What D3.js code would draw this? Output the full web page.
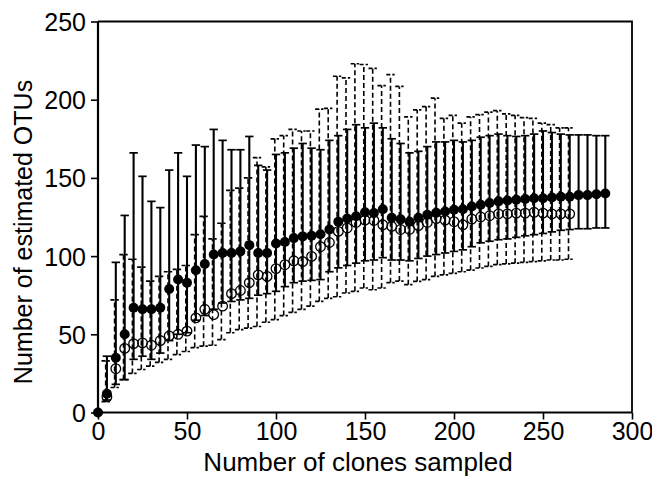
<!DOCTYPE html>
<html>
<head>
<meta charset="utf-8">
<script src="https://cdn.jsdelivr.net/npm/d3@7"></script>
<style>
    body { margin: 0; background: #fff; }
    text { font-family: 'Liberation Sans', Arial, sans-serif; fill: #000; }
</style>
</head>
<body>
<svg id="chart" width="652" height="480"></svg>
<script>
// clones sampled (x)
const solidClones = [0, 5, 10, 15, 20, 25, 30, 35, 40, 45, 50, 55, 60, 65, 70, 75, 80, 85, 90, 95,
    100, 105, 110, 115, 120, 125, 130, 135, 140, 145, 150, 155, 160, 165, 170, 175, 180, 185, 190, 195,
    200, 205, 210, 215, 220, 225, 230, 235, 240, 245, 250, 255, 260, 265, 270, 275, 280, 285]
const openClones = [5, 10, 15, 20, 25, 30, 35, 40, 45, 50, 55, 60, 65, 70, 75, 80, 85, 90, 95,
    100, 105, 110, 115, 120, 125, 130, 135, 140, 145, 150, 155, 160, 165, 170, 175, 180, 185, 190, 195,
    200, 205, 210, 215, 220, 225, 230, 235, 240, 245, 250, 255, 260, 265]

// filled circles, solid error bars
const solidMean = [0, 12, 35, 50, 67, 66, 66, 67, 79, 85, 83, 91, 95, 101, 102, 102, 103, 107, 102, 102,
    108, 109, 111.5, 112.6, 113, 114, 117, 122, 124, 125.5, 128, 127.5, 130, 124.5, 123.5, 122, 124.5, 126.4, 127.7, 128.5,
    129.6, 130, 131.7, 132.8, 134, 135, 135.5, 136, 136.5, 137, 137, 137.5, 138, 138, 139, 139, 139.5, 140]
const solidLow = [0, 8, 18, 21, 34, 36, 34, 38, 46, 50, 51, 59, 62, 66, 70, 71, 72, 73, 75, 76,
    77.5, 80.5, 83, 84, 84.5, 85, 90, 92.5, 94, 95.5, 97, 97.5, 99, 97.5, 97.5, 97, 98.5, 100, 101, 102,
    103, 104, 106, 108.5, 109.5, 110.5, 111, 112, 113, 113.7, 114.5, 115.5, 116.5, 117, 117.5, 117.5, 118, 118]
const solidHigh = [0, 36, 96, 126, 166, 151, 135, 131, 155, 166, 151, 171, 170, 181, 174, 168, 168, 176.5, 158, 155,
    165, 166, 169, 172, 169, 168, 174, 177, 181, 184, 182, 185, 182, 175, 172, 166, 167, 170, 173, 173,
    174, 173, 174, 176, 177, 178, 177, 176.5, 177, 178, 180, 179, 178, 177.5, 177.5, 177.5, 177, 177]

// open circles, dashed error bars
const openMean = [10, 28, 41, 44, 44.5, 43, 46, 49, 50, 52, 60.5, 66, 62.6, 68, 76, 78, 83, 88, 87,
    92, 94.5, 97, 96.5, 99.8, 106, 108.7, 115.8, 118, 121.5, 123, 122.8, 120, 119, 117, 117, 119.5, 121.5, 124, 123,
    122, 120, 123.7, 125, 125.8, 127, 127, 127.5, 127.5, 128, 127.5, 127, 127, 127]
const openLow = [7, 16, 21, 25, 27.5, 29.6, 32, 34, 37, 39, 41.5, 42.4, 43, 46.6, 51, 53, 54, 55, 57.7,
    59.4, 62, 64, 66, 68, 71, 73, 74, 76.4, 77.5, 79.6, 78.5, 79.6, 83, 84, 81.7, 83.8, 85, 87, 88,
    89, 90, 91, 92.4, 93.4, 94.5, 95, 95.5, 96, 96.5, 97, 97.5, 97.5, 98]
const openHigh = [33, 72, 101, 98, 93, 84, 87, 90, 91.5, 94, 113.7, 125.4, 111, 121, 142, 143.5, 150, 163, 157,
    175, 177, 181, 180, 180, 194, 194.5, 215, 214, 223, 222.5, 220, 209, 216, 208.5, 189, 193.5, 195.6, 201, 188,
    190, 185, 189, 190.5, 192, 193, 191, 190, 188.5, 188, 185, 184, 182, 182]

const xTicks = [0, 50, 100, 150, 200, 250, 300]
const yTicks = [0, 50, 100, 150, 200, 250]

const LEFT = 98
const RIGHT = 632
const TOP = 21.5
const BOTTOM = 412.5
const CAP = 4.2
const FONT = "'Liberation Sans', Arial, sans-serif"

const svg = d3.select('#chart')

const x = d3.scaleLinear().domain([0, 300]).range([LEFT, RIGHT])
const y = d3.scaleLinear().domain([0, 250]).range([BOTTOM, TOP])

const solid = solidClones.map((c, i) => ({ c, m: solidMean[i], lo: solidLow[i], hi: solidHigh[i] }))
const open = openClones.map((c, i) => ({ c, m: openMean[i], lo: openLow[i], hi: openHigh[i] }))

// frame
svg.append('path')
    .attr('d', `M ${LEFT} ${TOP} H ${RIGHT} V ${BOTTOM}`)
    .attr('fill', 'none')
    .attr('stroke', '#000')
    .attr('stroke-width', 1.8)

const appendBarsOn = (el, data, dashed) => {
    const g = el.append('g')
        .attr('stroke', '#000')
        .attr('fill', 'none')
    const bars = g.selectAll('g')
        .data(data.filter(d => d.hi > d.lo))
        .join('g')
        .attr('transform', d => `translate(${x(d.c) + (dashed ? -1.2 : 0)},0)`)
    bars.append('line')
        .attr('y1', d => y(d.lo))
        .attr('y2', d => y(d.hi))
        .attr('stroke-width', dashed ? 1.6 : 2.1)
        .attr('stroke-dasharray', dashed ? '5,3' : null)
    bars.append('line')
        .attr('x1', -CAP)
        .attr('x2', CAP)
        .attr('y1', d => y(d.hi))
        .attr('y2', d => y(d.hi))
        .attr('stroke-width', 1.7)
        .attr('stroke-dasharray', dashed ? '4,2' : null)
    bars.append('line')
        .attr('x1', -CAP)
        .attr('x2', CAP)
        .attr('y1', d => y(d.lo))
        .attr('y2', d => y(d.lo))
        .attr('stroke-width', 1.7)
        .attr('stroke-dasharray', dashed ? '4,2' : null)
}

appendBarsOn(svg, open, true)
appendBarsOn(svg, solid, false)

svg.append('g')
    .selectAll('circle')
    .data(open)
    .join('circle')
    .attr('cx', d => x(d.c))
    .attr('cy', d => y(d.m))
    .attr('r', 4.8)
    .attr('fill', 'none')
    .attr('stroke', '#000')
    .attr('stroke-width', 1.3)

svg.append('g')
    .selectAll('circle')
    .data(solid)
    .join('circle')
    .attr('cx', d => x(d.c))
    .attr('cy', d => y(d.m))
    .attr('r', 5)
    .attr('fill', '#000')

// axes
const xAxis = svg.append('g')
    .attr('transform', `translate(0,${BOTTOM})`)
    .call(d3.axisBottom(x).tickValues(xTicks).tickSize(7).tickPadding(3).tickFormat(d3.format('d')))
const yAxis = svg.append('g')
    .attr('transform', `translate(${LEFT},0)`)
    .call(d3.axisLeft(y).tickValues(yTicks).tickSize(7).tickPadding(5).tickFormat(d3.format('d')))

;[xAxis, yAxis].forEach(a => {
    a.select('.domain').attr('stroke-width', 2.2).attr('d', a === xAxis ? `M${LEFT},0H${RIGHT}` : `M0,${TOP}V${BOTTOM}`)
    a.selectAll('.tick line').attr('stroke-width', 1.6)
    a.selectAll('.tick text')
        .style('font-family', FONT)
        .style('font-size', '25px')
        .attr('fill', '#000')
})
yAxis.selectAll('.tick text').attr('dy', '0.36em')

svg.append('text')
    .attr('x', 358)
    .attr('y', 471)
    .attr('text-anchor', 'middle')
    .style('font-size', '26px')
    .text('Number of clones sampled')

svg.append('text')
    .attr('transform', 'translate(32,232) rotate(-90)')
    .attr('text-anchor', 'middle')
    .style('font-size', '25px')
    .text('Number of estimated OTUs')
</script>
</body>
</html>
